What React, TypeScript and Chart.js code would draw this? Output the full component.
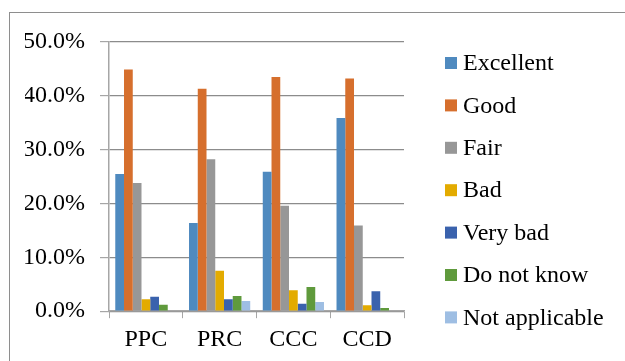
import React, { useEffect, useRef } from "react";
import { Chart, registerables } from "chart.js";

Chart.register(...registerables);

const categories = ["PPC", "PRC", "CCC", "CCD"];
const seriesNames = ["Excellent", "Good", "Fair", "Bad", "Very bad", "Do not know", "Not applicable"];
const excellent = [25.5, 16.4, 25.9, 35.9];
const good = [44.9, 41.3, 43.5, 43.2];
const fair = [23.8, 28.2, 19.6, 15.9];
const bad = [2.2, 7.5, 3.9, 1.1];
const veryBad = [2.7, 2.2, 1.4, 3.7];
const doNotKnow = [1.2, 2.8, 4.5, 0.6];
const notApplicable = [0, 1.9, 1.7, 0];
const seriesValues = [excellent, good, fair, bad, veryBad, doNotKnow, notApplicable];
const seriesColors = ["#4f8abf", "#d66f2d", "#979797", "#e3ab00", "#3a62ad", "#5f9a3c", "#9ebee3"];

const FONT = "'Times New Roman', 'Liberation Serif', serif";

const sideLegend = {
  id: "sideLegend",
  afterDraw(chart: any) {
    const ctx = chart.ctx;
    const area = chart.chartArea;
    const boxX = area.right + 41;
    const firstY = 63;
    const step = 42.4;
    ctx.save();
    ctx.font = `24px ${FONT}`;
    ctx.textBaseline = "middle";
    ctx.textAlign = "left";
    chart.data.datasets.forEach((ds: any, i: number) => {
      const cy = firstY + i * step;
      ctx.fillStyle = ds.backgroundColor;
      ctx.fillRect(boxX, cy - 6, 12, 12);
      ctx.fillStyle = "#000";
      ctx.fillText(ds.label, boxX + 18, cy + 1);
    });
    ctx.restore();
  },
};

export default function App() {
  const ref = useRef<HTMLCanvasElement | null>(null);
  useEffect(() => {
    if (!ref.current) return;
    const chart = new Chart(ref.current, {
      type: "bar",
      data: {
        labels: categories,
        datasets: seriesNames.map((name, i) => ({
          label: name,
          data: seriesValues[i],
          backgroundColor: seriesColors[i],
          borderWidth: 0,
          categoryPercentage: 0.83,
          barPercentage: 1,
        })),
      },
      plugins: [sideLegend],
      options: {
        responsive: false,
        animation: false,
        layout: { padding: { left: 25, right: 221, top: 42, bottom: 0 } },
        plugins: {
          tooltip: { enabled: false },
          legend: { display: false },
        },
        scales: {
          x: {
            grid: {
              display: true,
              drawOnChartArea: false,
              offset: true,
              tickLength: 7,
              tickColor: "#a6a6a6",
              color: "#a6a6a6",
            },
            border: { display: true, color: "#a6a6a6", width: 1.5 },
            ticks: { color: "#000", padding: 7, font: { family: FONT, size: 24 } },
          },
          y: {
            min: 0,
            max: 50,
            ticks: {
              stepSize: 10,
              padding: 15,
              color: "#000",
              font: { family: FONT, size: 24 },
              callback: (v: any) => Number(v).toFixed(1) + "%",
            },
            grid: {
              color: "#8c8c8c",
              lineWidth: 1.2,
              borderDash: [5, 3],
              tickBorderDash: [],
              tickLength: 9,
              tickColor: "#a6a6a6",
            },
            border: { display: true, color: "#a6a6a6", width: 1.5 },
            afterFit: (s: any) => {
              s.width = 84;
            },
          },
        },
      } as any,
    });
    return () => chart.destroy();
  }, []);
  return (
    <div style={{ position: "fixed", left: 0, top: 0, width: 625, height: 361, background: "#fff" }}>
      <canvas ref={ref} width={625} height={361} style={{ position: "absolute", left: 0, top: 0 }} />
      <div
        style={{
          position: "absolute",
          left: 9,
          top: 12,
          right: 0,
          bottom: 0,
          borderTop: "1px solid #8e8e8e",
          borderLeft: "1px solid #8e8e8e",
          pointerEvents: "none",
        }}
      />
    </div>
  );
}
